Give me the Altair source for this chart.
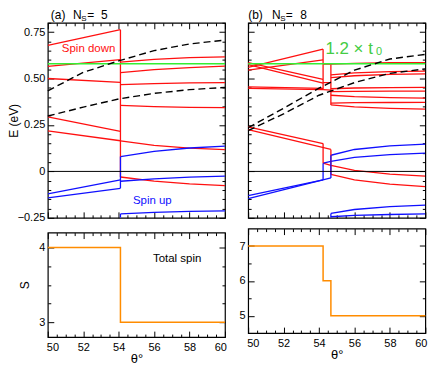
import altair as alt
import pandas as pd

FONT = "Liberation Sans"
RED = "#ff1010"
BLUE = "#1010ff"
ORANGE = "#ff8c00"
GREEN = "#33ee33"
GREEN_TXT = "#44cc44"

# ---------------- panel (a) : N_S = 5 ----------------
A_JUMP = 54.1
A_PRE_T = [50.0, 54.1]
A_RED_PRE = [
    [0.679, 0.763],
    [0.565, 0.602],
    [0.500, 0.479],
    [0.294, 0.215],
    [0.218, 0.165],
]
A_POST_T = [54.1, 56.0, 58.0, 60.0]
A_RED_POST = [
    [0.588, 0.603, 0.612, 0.617],
    [0.532, 0.548, 0.559, 0.567],
    [0.467, 0.472, 0.476, 0.478],
    [0.355, 0.349, 0.345, 0.343],
    [0.164, 0.140, 0.125, 0.117],
    [-0.030, -0.052, -0.067, -0.077],
]
A_BLUE_PRE = [
    [-0.121, -0.046],
    [-0.142, -0.091],
]
A_BLUE_POST = [
    [0.080, 0.108, 0.126, 0.136],
    [-0.053, -0.040, -0.031, -0.025],
    [-0.229, -0.221, -0.215, -0.212],
]
A_RED_JUMPS = [[0.763, -0.030]]
A_BLUE_JUMPS = [[-0.091, 0.080], [-0.25, -0.229]]
A_DASH_T = [50, 52, 54, 56, 58, 60]
A_DASH = [
    [0.434, 0.533, 0.595, 0.650, 0.686, 0.707],
    [0.298, 0.346, 0.390, 0.420, 0.440, 0.452],
]
A_SPIN_T = [50.0, 54.1, 60.0]
A_SPIN_S = [4, 3, 3]

# ---------------- panel (b) : N_S = 8 ----------------
B_J1 = 54.23
B_J2 = 54.67
B_PRE1_T = [50.0, 54.23]
B_RED_PRE1 = [
    [0.560, 0.658],
    [0.545, 0.600],
    [0.585, 0.495],
    [0.575, 0.475],
    [0.455, 0.447],
    [0.447, 0.440],
    [0.240, 0.150],
]
B_PRE2_T = [50.0, 54.67]
B_RED_PRE2 = [
    [0.225, 0.118],
]
B_MID_T = [54.23, 54.67]
B_RED_MID = [
    [0.577, 0.577],
    [0.478, 0.478],
    [0.440, 0.438],
]
B_POST_T = [54.67, 56.0, 58.0, 60.0]
B_RED_POST = [
    [0.578, 0.582, 0.585, 0.586],
    [0.520, 0.530, 0.537, 0.540],
    [0.505, 0.515, 0.522, 0.525],
    [0.445, 0.449, 0.451, 0.452],
    [0.430, 0.431, 0.432, 0.432],
    [0.410, 0.402, 0.397, 0.395],
    [0.368, 0.370, 0.371, 0.372],
    [0.358, 0.347, 0.339, 0.335],
]
B_POST1_T = [54.23, 54.67, 56.0, 58.0, 60.0]
B_RED_POST1 = [
    [0.044, 0.032, 0.005, -0.015, -0.025],
]
B_RED_POST2 = [
    [-0.016, -0.045, -0.068, -0.082],
]
B_BLUE_PRE1 = [[-0.130, -0.045]]
B_BLUE_PRE2 = [[-0.147, -0.035]]
B_BLUE_POST1 = [[0.044, 0.054, 0.075, 0.090, 0.098]]
B_BLUE_POST2 = [
    [0.087, 0.118, 0.138, 0.147],
    [-0.226, -0.205, -0.190, -0.182],
    [-0.244, -0.237, -0.232, -0.229],
]
B_RED_JUMPS1 = [[0.658, 0.440], [0.150, 0.044]]
B_RED_JUMPS2 = [[0.577, 0.358], [0.118, -0.016]]
B_BLUE_JUMPS1 = [[-0.045, 0.044]]
B_BLUE_JUMPS2 = [[-0.035, 0.087], [-0.25, -0.226]]
B_DASH_T = [50, 52, 54, 56, 58, 60]
B_DASH = [
    [0.235, 0.340, 0.448, 0.545, 0.605, 0.630],
    [0.220, 0.310, 0.410, 0.478, 0.528, 0.552],
]
B_SPIN_T = [50.0, 54.23, 54.67, 60.0]
B_SPIN_S = [7, 6, 5, 5]

T0_LEVEL = 0.58

# tick positions
X_MAJOR = [50, 52, 54, 56, 58, 60]
X_MINOR = [50.5, 51, 51.5, 52.5, 53, 53.5, 54.5, 55, 55.5, 56.5, 57, 57.5, 58.5, 59, 59.5]
YT_MAJOR = [-0.25, 0.0, 0.25, 0.5, 0.75]
YT_MINOR = [-0.2, -0.15, -0.1, -0.05, 0.05, 0.1, 0.15, 0.2, 0.3, 0.35, 0.4, 0.45,
            0.55, 0.6, 0.65, 0.7, 0.8]
YA_MAJOR = [3, 4]
YA_MINOR = [3.25, 3.5, 3.75]
YB_MAJOR = [5, 6, 7]
YB_MINOR = [5.5, 6.5]

MAJ, MIN = 6, 3
W, H_TOP, H_BOT = 178, 196, 105

Y_TOP_LABEL = "abs(datum.value) < 0.001 ? '0' : format(datum.value, '.2f')"
INT_LABEL = "format(datum.value, 'd')"


def ax(orient, values, size, labels=False, label_expr=None, title=None,
       label_pad=3, title_pad=2, title_size=12, flush=False):
    kw = dict(orient=orient, values=values, domain=False, grid=False, ticks=True,
              tickSize=size, offset=-size, tickColor="black", tickWidth=1,
              minExtent=0, maxExtent=200,
              labels=labels, labelFlush=flush, labelOverlap=False, title=title)
    if flush:
        kw.update(labelFlushOffset=1.5)
    if labels:
        kw.update(labelExpr=label_expr, labelPadding=label_pad)
    if title:
        kw.update(titlePadding=title_pad, titleFontSize=title_size)
    return alt.Axis(**kw)


def rows(kind, thetas, series, prefix):
    out = []
    for i, s in enumerate(series):
        for t, e in zip(thetas, s):
            out.append({"id": f"{prefix}{i}", "kind": kind, "theta": t, "E": e})
    return out


def jump_rows(kind, t, series, prefix):
    out = []
    for i, s in enumerate(series):
        for e in s:
            out.append({"id": f"{prefix}{i}", "kind": kind, "theta": t, "E": e})
    return out


def axis_layers(df, yfield, xs, ys, xmaj, ymaj, xmin, ymin):
    out = []
    specs = [(xmaj[0], ymaj[0]), (xmaj[1], ymaj[1]), (xmin[0], ymin[0]), (xmin[1], ymin[1])]
    for xa, ya in specs:
        out.append(
            alt.Chart(df).mark_line(opacity=0).encode(
                x=alt.X("theta:Q", scale=xs, axis=xa),
                y=alt.Y(f"{yfield}:Q", scale=ys, axis=ya),
                detail="id:N",
            )
        )
    return out


def title_marks(parts):
    marks = []
    for txt, x, y, size in parts:
        marks.append(
            alt.Chart(pd.DataFrame({"t": [txt]})).mark_text(
                align="left", baseline="alphabetic", fontSize=size, font=FONT, color="black"
            ).encode(text="t:N", x=alt.value(x), y=alt.value(y))
        )
    return marks


def text_layers(texts, yfield, xs, ys):
    out = []
    for df_t, style in texts:
        out.append(
            alt.Chart(df_t).mark_text(baseline="alphabetic", font=FONT, **style).encode(
                x=alt.X("theta:Q", scale=xs, axis=None),
                y=alt.Y(f"{yfield}:Q", scale=ys, axis=None),
                text="t:N",
            )
        )
    return out


def top_panel(line_rows, dash_t, dash, texts, ylabels, title_parts):
    xs = alt.Scale(domain=[50, 60], nice=False, zero=False)
    ys = alt.Scale(domain=[-0.25, 0.8], nice=False, zero=False)
    df = pd.DataFrame(line_rows)
    ddf = pd.DataFrame(rows("dash", dash_t, dash, "d"))
    lines = alt.Chart(df).mark_line(strokeWidth=1.3, clip=True).encode(
        x=alt.X("theta:Q", scale=xs, axis=None),
        y=alt.Y("E:Q", scale=ys, axis=None),
        color=alt.Color("kind:N", scale=alt.Scale(domain=["down", "up"], range=[RED, BLUE]),
                        legend=None),
        detail="id:N",
    )
    green = alt.Chart(pd.DataFrame({"E": [T0_LEVEL]})).mark_rule(
        color=GREEN, strokeWidth=1.5).encode(y=alt.Y("E:Q", scale=ys, axis=None))
    zero = alt.Chart(pd.DataFrame({"E": [0.0]})).mark_rule(
        color="black", strokeWidth=1).encode(y=alt.Y("E:Q", scale=ys, axis=None))
    dashed = alt.Chart(ddf).mark_line(
        strokeDash=[7, 4], color="black", strokeWidth=1.4).encode(
        x=alt.X("theta:Q", scale=xs, axis=None),
        y=alt.Y("E:Q", scale=ys, axis=None),
        detail="id:N",
    )
    xmaj = (ax("bottom", X_MAJOR, MAJ), ax("top", X_MAJOR, MAJ))
    xmin = (ax("bottom", X_MINOR, MIN), ax("top", X_MINOR, MIN))
    ymaj = (ax("left", YT_MAJOR, MAJ, ylabels, Y_TOP_LABEL,
               "E (eV)" if ylabels else None, 3, -3, 12),
            ax("right", YT_MAJOR, MAJ))
    ymin = (ax("left", YT_MINOR, MIN), ax("right", YT_MINOR, MIN))
    layers = [lines, green, dashed, zero]
    layers += text_layers(texts, "E", xs, ys)
    layers += axis_layers(ddf, "E", xs, ys, xmaj, ymaj, xmin, ymin)
    layers += title_marks(title_parts)
    return alt.layer(*layers).resolve_axis(x="independent", y="independent").properties(
        width=W, height=H_TOP)


def bottom_panel(spin_t, spin_s, ydom, ymajv, yminv, show_title, texts):
    xs = alt.Scale(domain=[50, 60], nice=False, zero=False)
    ys = alt.Scale(domain=ydom, nice=False, zero=False)
    df = pd.DataFrame({"theta": spin_t, "S": spin_s, "id": ["s"] * len(spin_t)})
    step = alt.Chart(df).mark_line(interpolate="step-after", color=ORANGE, strokeWidth=1.5).encode(
        x=alt.X("theta:Q", scale=xs, axis=None),
        y=alt.Y("S:Q", scale=ys, axis=None),
    )
    xmaj = (ax("bottom", X_MAJOR, MAJ, True, INT_LABEL, "θ°", 4, 1, 13, flush=True),
            ax("top", X_MAJOR, MAJ))
    xmin = (ax("bottom", X_MINOR, MIN), ax("top", X_MINOR, MIN))
    ymaj = (ax("left", ymajv, MAJ, True, INT_LABEL, "S" if show_title else None, 3, 7, 12),
            ax("right", ymajv, MAJ))
    ymin = (ax("left", yminv, MIN), ax("right", yminv, MIN))
    layers = [step]
    layers += text_layers(texts, "S", xs, ys)
    layers += axis_layers(df, "S", xs, ys, xmaj, ymaj, xmin, ymin)
    return alt.layer(*layers).resolve_axis(x="independent", y="independent").properties(
        width=W, height=H_BOT)


# ---- assemble rows ----
a_rows = (rows("down", A_PRE_T, A_RED_PRE, "arp") + rows("down", A_POST_T, A_RED_POST, "arq")
          + rows("up", A_PRE_T, A_BLUE_PRE, "abp") + rows("up", A_POST_T, A_BLUE_POST, "abq")
          + jump_rows("down", A_JUMP, A_RED_JUMPS, "arj") + jump_rows("up", A_JUMP, A_BLUE_JUMPS, "abj"))

b_rows = (rows("down", B_PRE1_T, B_RED_PRE1, "brp") + rows("down", B_PRE2_T, B_RED_PRE2, "brp2")
          + rows("down", B_MID_T, B_RED_MID, "brm")
          + rows("down", B_POST_T, B_RED_POST, "brq")
          + rows("down", B_POST1_T, B_RED_POST1, "brq1")
          + rows("down", B_POST_T, B_RED_POST2, "brq2")
          + rows("up", B_PRE1_T, B_BLUE_PRE1, "bbp") + rows("up", B_PRE2_T, B_BLUE_PRE2, "bbp2")
          + rows("up", B_POST1_T, B_BLUE_POST1, "bbq") + rows("up", B_POST_T, B_BLUE_POST2, "bbq2")
          + jump_rows("down", B_J1, B_RED_JUMPS1, "brj") + jump_rows("down", B_J2, B_RED_JUMPS2, "brk")
          + jump_rows("up", B_J1, B_BLUE_JUMPS1, "bbj") + jump_rows("up", B_J2, B_BLUE_JUMPS2, "bbk"))

a_texts = [
    (pd.DataFrame({"theta": [52.3], "E": [0.645], "t": ["Spin down"]}),
     dict(color=RED, fontSize=11.5, align="center")),
    (pd.DataFrame({"theta": [55.9], "E": [-0.178], "t": ["Spin up"]}),
     dict(color=BLUE, fontSize=11.5, align="center")),
]
b_texts = [
    (pd.DataFrame({"theta": [54.36], "E": [0.631], "t": ["1.2 × t"]}),
     dict(color=GREEN_TXT, fontSize=17, align="left")),
    (pd.DataFrame({"theta": [57.22], "E": [0.627], "t": ["0"]}),
     dict(color=GREEN_TXT, fontSize=11, align="left")),
]
a_bot_texts = [
    (pd.DataFrame({"theta": [57.3], "S": [3.80], "t": ["Total spin"]}),
     dict(color="black", fontSize=11.5, align="center")),
]

a_title = [("(a)", 3, -4, 12), ("N", 25.4, -4, 12), ("S", 33.7, -2, 8), ("=", 39.7, -4, 12), ("5", 53.5, -4, 12)]
b_title = [("(b)", 0, -4, 12), ("N", 24, -4, 12), ("S", 32.3, -2, 8), ("=", 37.8, -4, 12), ("8", 52.4, -4, 12)]

top_a = top_panel(a_rows, A_DASH_T, A_DASH, a_texts, True, a_title)
top_b = top_panel(b_rows, B_DASH_T, B_DASH, b_texts, False, b_title)
bot_a = bottom_panel(A_SPIN_T, A_SPIN_S, [2.8, 4.2], YA_MAJOR, YA_MINOR, True, a_bot_texts)
bot_b = bottom_panel(B_SPIN_T, B_SPIN_S, [4.5, 7.5], YB_MAJOR, YB_MINOR, False, [])

col_a = alt.vconcat(top_a, bot_a, spacing=6.8)
col_b = alt.vconcat(top_b, bot_b, spacing=6.8)

chart = alt.hconcat(col_a, col_b, spacing=9.3).properties(
    padding={"left": -2, "top": -1, "right": -1, "bottom": -1}
).configure_view(stroke="black", strokeWidth=1.2).configure_axis(
    labelFont=FONT, titleFont=FONT, labelFontSize=11, labelColor="black",
    titleColor="black", titleFontWeight="normal"
).configure_text(font=FONT)

chart.save("out.html", embed_options={"renderer": "svg", "actions": False})
